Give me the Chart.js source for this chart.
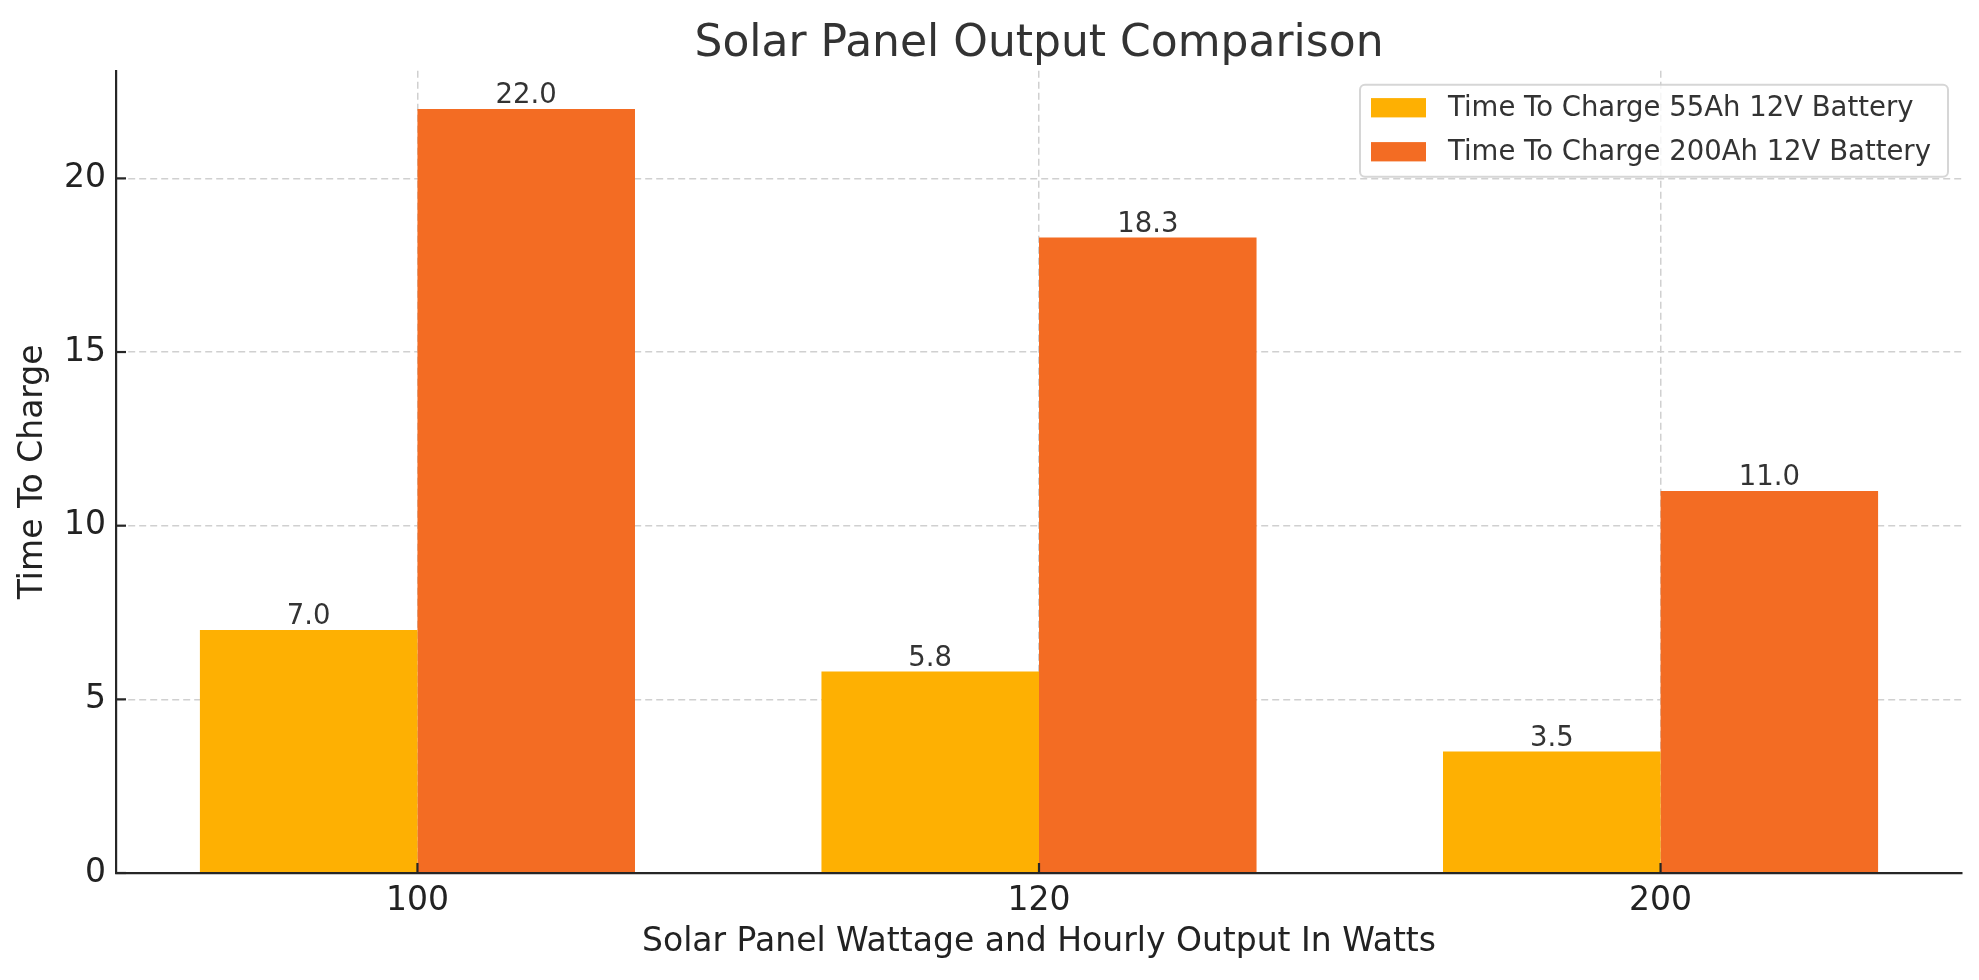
<!DOCTYPE html>
<html>
<head>
<meta charset="utf-8">
<script src="https://cdn.jsdelivr.net/npm/chart.js@4.4.1/dist/chart.umd.min.js"></script>
<style>
  html, body { margin: 0; padding: 0; background: #ffffff; }
  canvas { display: block; }
</style>
</head>
<body>
<canvas id="c" width="1979" height="980" style="width:1979px;height:980px"></canvas>
<script>
const categories = ['100', '120', '200'];
const seriesNames = ['Time To Charge 55Ah 12V Battery', 'Time To Charge 200Ah 12V Battery'];
const values55Ah = [7.0, 5.8, 3.5];
const values200Ah = [22.0, 18.3, 11.0];
const yTicks = [0, 5, 10, 15, 20];
const colors = ['rgb(254,176,2)', 'rgb(243,108,35)'];

const FONT = "'DejaVu Sans', sans-serif";
const AXIS_COLOR = '#262626';

function toPoints(arr) { return arr.map((v, i) => ({ x: i, y: v })); }

const inwardTicks = {
  id: 'inwardTicks',
  afterDatasetsDraw(chart) {
    const { ctx, chartArea, scales } = chart;
    ctx.save();
    ctx.strokeStyle = AXIS_COLOR;
    ctx.lineWidth = 2.2;
    scales.y.ticks.forEach(t => {
      const p = scales.y.getPixelForValue(t.value);
      ctx.beginPath();
      ctx.moveTo(chartArea.left, p);
      ctx.lineTo(chartArea.left + 10, p);
      ctx.stroke();
    });
    scales.x.ticks.forEach(t => {
      const p = scales.x.getPixelForValue(t.value);
      ctx.beginPath();
      ctx.moveTo(p, chartArea.bottom);
      ctx.lineTo(p, chartArea.bottom - 10);
      ctx.stroke();
    });
    ctx.restore();
  }
};

const valueLabels = {
  id: 'valueLabels',
  afterDatasetsDraw(chart) {
    const { ctx } = chart;
    ctx.save();
    ctx.font = '27.5px ' + FONT;
    ctx.fillStyle = '#333333';
    ctx.textAlign = 'center';
    ctx.textBaseline = 'alphabetic';
    chart.data.datasets.forEach((ds, di) => {
      const meta = chart.getDatasetMeta(di);
      meta.data.forEach((bar, i) => {
        ctx.fillText(ds.data[i].y.toFixed(1), bar.x, bar.y - 5.5);
      });
    });
    ctx.restore();
  }
};

const boxLegend = {
  id: 'boxLegend',
  afterDraw(chart) {
    const { ctx, chartArea } = chart;
    const right = chartArea.right - 14;
    const top = chartArea.top + 14;
    const w = 588, h = 92;
    const left = right - w;
    ctx.save();
    ctx.beginPath();
    if (ctx.roundRect) ctx.roundRect(left, top, w, h, 5); else ctx.rect(left, top, w, h);
    ctx.fillStyle = 'rgba(255,255,255,0.8)';
    ctx.fill();
    ctx.lineWidth = 2;
    ctx.strokeStyle = 'rgba(204,204,204,0.8)';
    ctx.stroke();
    ctx.font = '27.5px ' + FONT;
    ctx.textAlign = 'left';
    ctx.textBaseline = 'middle';
    const rows = [top + 23, top + 67];
    chart.data.datasets.forEach((ds, i) => {
      const cy = rows[i];
      ctx.fillStyle = ds.backgroundColor;
      ctx.fillRect(left + 11, cy - 9.6, 55, 19.3);
      ctx.fillStyle = '#333333';
      ctx.fillText(ds.label, left + 88, cy + 1);
    });
    ctx.restore();
  }
};

new Chart(document.getElementById('c'), {
  type: 'bar',
  data: {
    datasets: [
      { label: seriesNames[0], data: toPoints(values55Ah), backgroundColor: colors[0], borderWidth: 0 },
      { label: seriesNames[1], data: toPoints(values200Ah), backgroundColor: colors[1], borderWidth: 0 }
    ]
  },
  options: {
    responsive: false,
    animation: false,
    devicePixelRatio: 1,
    categoryPercentage: 0.7,
    barPercentage: 1.0,
    layout: { padding: { left: 0, right: 17, top: 0, bottom: 0 } },
    plugins: {
      legend: { display: false },
      tooltip: { enabled: false },
      title: {
        display: true,
        fullSize: false,
        text: 'Solar Panel Output Comparison',
        color: '#333333',
        font: { family: FONT, size: 44, weight: 'normal', lineHeight: 1.0 },
        padding: { top: 22.6, bottom: 4.1 }
      }
    },
    scales: {
      x: {
        type: 'linear',
        offset: false,
        min: -0.485,
        max: 2.485,
        afterBuildTicks(scale) { scale.ticks = categories.map((c, i) => ({ value: i })); },
        afterFit(scale) { scale.height = 107; },
        ticks: {
          padding: 9,
          color: '#222222',
          font: { family: FONT, size: 33 },
          callback: (v) => categories[v]
        },
        grid: { offset: false, color: '#d0d0d0', lineWidth: 1.5, drawTicks: false },
        border: { display: true, color: AXIS_COLOR, width: 2.2, dash: [7, 4], z: 1 },
        title: {
          display: true,
          text: 'Solar Panel Wattage and Hourly Output In Watts',
          color: '#222222',
          font: { family: FONT, size: 33, lineHeight: 1.2 },
          padding: { top: 0, bottom: 18.2 }
        }
      },
      y: {
        type: 'linear',
        min: 0,
        max: 23.1,
        afterBuildTicks(scale) { scale.ticks = yTicks.map(v => ({ value: v })); },
        afterFit(scale) { scale.width = 116; },
        ticks: {
          padding: 10,
          color: '#222222',
          font: { family: FONT, size: 33 }
        },
        grid: { color: '#d0d0d0', lineWidth: 1.5, drawTicks: false },
        border: { display: true, color: AXIS_COLOR, width: 2.2, dash: [7, 4], z: 1 },
        title: {
          display: true,
          text: 'Time To Charge',
          color: '#222222',
          font: { family: FONT, size: 33, lineHeight: 1.2 },
          padding: { top: 13.8, bottom: 0 }
        }
      }
    }
  },
  plugins: [inwardTicks, valueLabels, boxLegend]
});
</script>
</body>
</html>
